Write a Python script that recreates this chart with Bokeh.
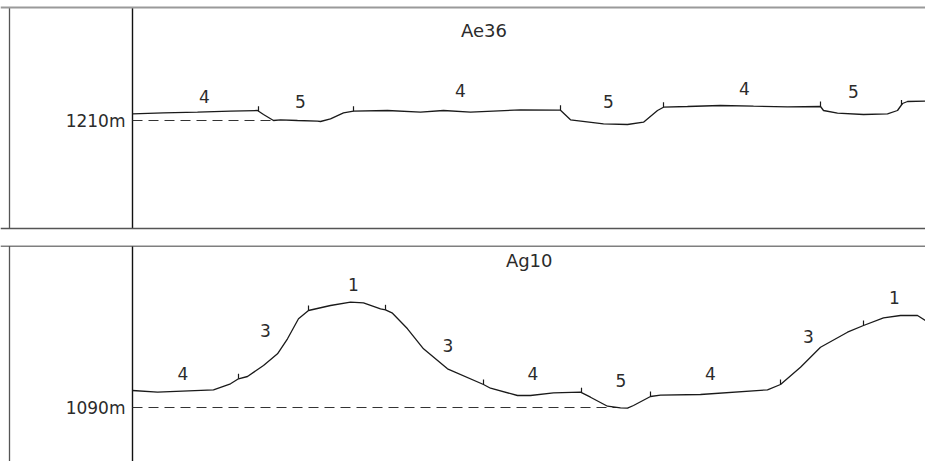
import numpy as np
from bokeh.plotting import figure
from bokeh.layouts import column
from bokeh.models import Range1d, Span, ColumnDataSource
from bokeh.core.properties import value
from bokeh.embed import file_html
from bokeh.resources import INLINE

# ---------------- data ----------------
# Profile Ae36 : distance along section (m) and elevation (m)
ae36_dist = [0, 31, 65, 98, 125, 131, 141, 148, 165, 185, 188, 198, 211, 221, 255, 288,
             311, 338, 388, 425, 428, 438, 471, 495, 511, 525, 531, 555, 588, 621, 655,
             688, 691, 705, 731, 755, 765, 770, 775, 793]
ae36_elev = [1216.7, 1217.7, 1218.3, 1219.3, 1220.0, 1216.0, 1210.0, 1210.7, 1210.0, 1209.3,
             1209.0, 1211.7, 1217.7, 1219.3, 1220.0, 1218.3, 1220.0, 1218.3, 1220.7, 1220.3,
             1220.3, 1210.7, 1206.7, 1206.0, 1208.3, 1220.0, 1223.3, 1224.0, 1225.0, 1224.3,
             1223.7, 1224.0, 1220.0, 1217.3, 1216.0, 1216.7, 1220.0, 1227.0, 1229.0, 1229.3]
ae36_datum = 1210
ae36_bounds = [126, 221, 428, 531, 688, 769]
ae36_classes = ["4", "5", "4", "5", "4", "5"]
ae36_label_dist = [72, 168, 328, 476, 612, 721]
ae36_label_elev = [1234.3, 1229.3, 1240.0, 1228.7, 1241.7, 1238.7]
ae36_title = ("Ae36", 351.5, 1300.3)

# Profile Ag10
ag10_dist = [0, 25, 81, 98, 106, 115, 131, 145, 155, 166, 176, 198, 218, 231, 248, 253,
             260, 275, 291, 315, 351, 358, 385, 398, 421, 448, 458, 475, 488, 495, 501,
             518, 528, 568, 635, 648, 668, 688, 715, 731, 751, 768, 785, 793]
ag10_elev = [1107.0, 1105.3, 1107.7, 1113.7, 1118.7, 1121.0, 1132.0, 1143.7, 1158.7, 1178.7,
             1187.0, 1192.0, 1195.3, 1194.7, 1188.7, 1187.7, 1184.3, 1168.7, 1148.7, 1128.7,
             1113.0, 1109.3, 1102.0, 1102.0, 1104.7, 1105.3, 1100.3, 1091.3, 1089.7, 1089.3,
             1092.0, 1101.0, 1102.3, 1103.0, 1107.7, 1113.0, 1130.3, 1150.3, 1165.3, 1172.0,
             1179.7, 1182.0, 1182.0, 1177.0]
ag10_datum = 1090
ag10_bounds = [106, 176, 253, 351, 449, 518, 648, 731]
ag10_classes = ["4", "3", "1", "3", "4", "5", "4", "3", "1"]
ag10_label_dist = [50.5, 133, 221, 315.5, 400.5, 488.5, 578, 676, 762]
ag10_label_elev = [1124.3, 1167.3, 1213.3, 1152.5, 1123.7, 1117.0, 1123.7, 1161.0, 1200.0]
ag10_title = ("Ag10", 396.7, 1237.3)

FONT = value("DejaVu Sans")
INK = "#1a1a1a"
TXT = "#2b2b2b"


def panel(title, dist, elev, datum, bounds, classes, lab_d, lab_e,
          height, y0, y1, top_border, bottom_border):
    p = figure(width=925, height=height, output_backend="svg", toolbar_location=None,
               tools="", x_axis_type=None, y_axis_type=None,
               x_range=Range1d(-132, 793), y_range=Range1d(y0, y1),
               min_border=0, outline_line_color=None,
               background_fill_color="white", border_fill_color="white")
    p.grid.visible = False

    d = np.asarray(dist, float)
    e = np.asarray(elev, float)

    # frame lines
    top = top_border[0]
    bottom = bottom_border if bottom_border is not None else y0
    p.add_layout(Span(location=top, dimension="width",
                      line_color=top_border[1], line_width=top_border[2]))
    if bottom_border is not None:
        p.add_layout(Span(location=bottom_border, dimension="width",
                          line_color="#555555", line_width=1.5))
    p.segment(x0=[-123], y0=[bottom], x1=[-123], y1=[top], line_color="#555555", line_width=1.3)
    p.segment(x0=[0], y0=[bottom], x1=[0], y1=[top], line_color="#111111", line_width=1.4)

    # datum dashed line up to first point where the profile reaches it
    below = np.where(e <= datum)[0]
    if len(below):
        i = below[0]
        end = float(np.interp(datum, [e[i], e[i - 1]], [d[i], d[i - 1]]))
    else:
        end = float(d[-1])
    p.line([0, end], [datum, datum], line_color="#333333", line_width=1.2, line_dash="10 6")

    # profile
    p.line(d, e, line_color=INK, line_width=1.3)

    # unit boundary ticks
    b = np.asarray(bounds, float)
    be = np.interp(b, d, e)
    p.segment(x0=b, y0=be, x1=b, y1=be + 5, line_color=INK, line_width=1.2)

    # unit labels
    src = ColumnDataSource(dict(x=lab_d, y=lab_e, t=classes))
    p.text(x="x", y="y", text="t", source=src, text_font=FONT, text_font_size="17px",
           text_color=TXT, text_align="center", text_baseline="middle")

    # datum label
    p.text(x=[-7], y=[datum], text=[f"{datum}m"], text_font=FONT, text_font_size="17px",
           text_color=TXT, text_align="right", text_baseline="middle")

    # profile name
    p.text(x=[title[1]], y=[title[2]], text=[title[0]], text_font=FONT,
           text_font_size="18px", text_color=TXT,
           text_align="center", text_baseline="middle")
    return p


p1 = panel(ae36_title, ae36_dist, ae36_elev, ae36_datum, ae36_bounds, ae36_classes,
           ae36_label_dist, ae36_label_elev, 230, 1100, 1330,
           (1323, "#9a9a9a", 2), 1102)
p2 = panel(ag10_title, ag10_dist, ag10_elev, ag10_datum, ag10_bounds, ag10_classes,
           ag10_label_dist, ag10_label_elev, 216, 1036, 1252,
           (1251.5, "#555555", 1.5), None)

layout = column(p1, p2, spacing=15)
open("out.html", "w").write(file_html(layout, INLINE))
